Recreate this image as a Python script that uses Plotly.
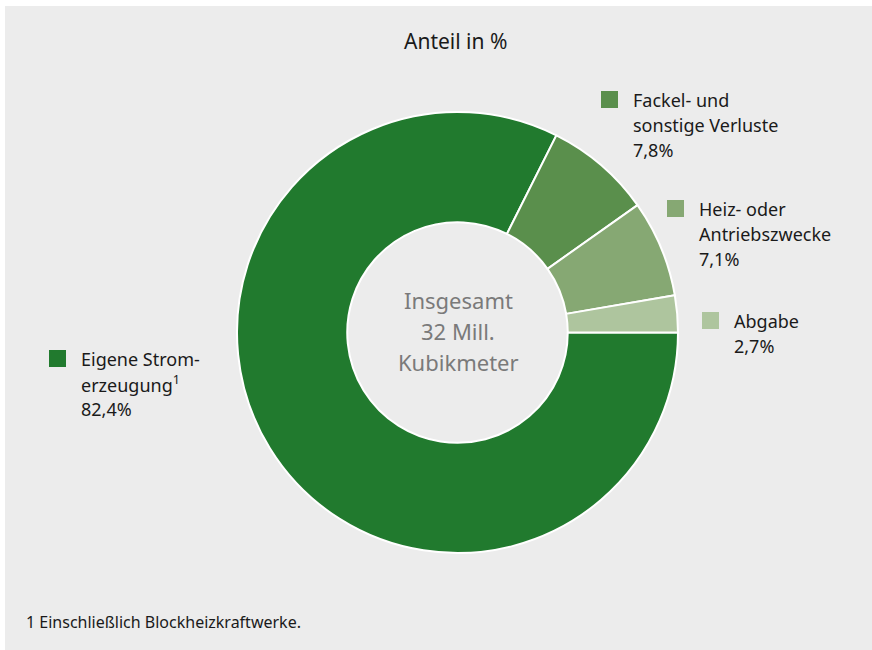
import plotly.graph_objects as go

W, H = 872, 650

# data
categories = ["Eigene Stromerzeugung", "Fackel- und sonstige Verluste",
              "Heiz- oder Antriebszwecke", "Abgabe"]
label_lines = [["Eigene Strom-", "erzeugung<sup>1</sup>"],
               ["Fackel- und", "sonstige Verluste"],
               ["Heiz- oder", "Antriebszwecke"],
               ["Abgabe"]]
shares = [82.4, 7.8, 7.1, 2.7]
center_text = ["Insgesamt", "32 Mill.", "Kubikmeter"]
title_text = "Anteil in %"
footnote = "1 Einschließlich Blockheizkraftwerke."

colors = ["#217a2e", "#5a8f4c", "#86a873", "#aec59e"]
FONT = "Noto Sans"


def px(x):
    return x / W


def py(y):
    return 1 - y / H


fig = go.Figure()
fig.add_trace(go.Pie(
    labels=categories,
    values=shares,
    sort=False,
    direction="clockwise",
    rotation=90,
    hole=0.5,
    marker=dict(colors=colors, line=dict(color="white", width=2)),
    textinfo="none",
    hoverinfo="label+percent",
    showlegend=False,
    domain=dict(x=[px(237), px(678)], y=[py(553), py(112)]),
))

# label blocks: (square left, square top) per category
label_pos = [(49, 350), (601, 91), (667, 200), (702, 312)]
annotations = []
shapes = [dict(type="rect", xref="paper", yref="paper",
               x0=px(5), x1=1, y0=0, y1=py(6),
               fillcolor="#ececec", line=dict(width=0), layer="below")]

for i, (sx, sy) in enumerate(label_pos):
    shapes.append(dict(type="rect", xref="paper", yref="paper",
                       x0=px(sx), x1=px(sx + 17), y0=py(sy + 17), y1=py(sy),
                       fillcolor=colors[i], line=dict(width=0)))
    lines = label_lines[i] + [f"{shares[i]:.1f}%".replace(".", ",")]
    for j, txt in enumerate(lines):
        annotations.append(dict(
            x=px(sx + 30), y=py(sy + 9 + j * 25), xref="paper", yref="paper",
            text=txt, showarrow=False, xanchor="left", yanchor="middle",
            font=dict(family=FONT, size=18, color="#1a1a1a")))

for j, txt in enumerate(center_text):
    annotations.append(dict(
        x=px(458), y=py(300 + j * 31), xref="paper", yref="paper",
        text=txt, showarrow=False, xanchor="center", yanchor="middle",
        font=dict(family=FONT, size=22, color="#7a7a7a")))

annotations.append(dict(
    x=px(455), y=py(41), xref="paper", yref="paper", text=title_text,
    showarrow=False, xanchor="center", yanchor="middle",
    font=dict(family=FONT, size=21, color="#1a1a1a")))

annotations.append(dict(
    x=px(24), y=py(622), xref="paper", yref="paper", text=footnote,
    showarrow=False, xanchor="left", yanchor="middle",
    font=dict(family=FONT, size=16, color="#1a1a1a")))

fig.update_layout(
    width=W, height=H,
    margin=dict(l=0, r=0, t=0, b=0),
    paper_bgcolor="white",
    plot_bgcolor="white",
    shapes=shapes,
    annotations=annotations,
)

fig.write_html("out.html",
               config={"displayModeBar": False},
               post_script="document.body.style.margin='0';"
                           "document.body.style.overflow='hidden';")
